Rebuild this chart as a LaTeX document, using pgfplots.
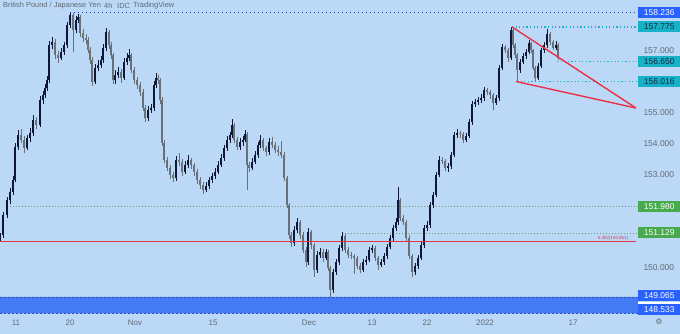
\documentclass[border=0pt]{standalone}
\usepackage{fontspec}
\setmainfont{Liberation Sans}
\newfontfamily\dejavu{DejaVu Sans}
\usepackage{pgfplots}
\usepackage{pgfplotstable}
\usetikzlibrary{backgrounds}
\pgfplotsset{compat=1.18}
\definecolor{bg}{RGB}{187,217,247}
\definecolor{upc}{RGB}{16,24,56}
\definecolor{dnc}{RGB}{104,112,120}
\definecolor{boxblue}{RGB}{41,98,255}
\definecolor{band}{RGB}{68,122,244}
\definecolor{bandline}{RGB}{40,80,200}
\definecolor{topdot}{RGB}{34,60,160}
\definecolor{tealc}{RGB}{24,178,200}
\definecolor{tealtxt}{RGB}{20,40,60}
\definecolor{grn}{RGB}{72,170,76}
\definecolor{grndot}{RGB}{110,160,110}
\definecolor{lred}{RGB}{232,50,70}
\definecolor{txt}{RGB}{96,106,118}

\pgfplotstableread{
x o h l c
0 150.95 151.12 150.88 151.06
3 151.06 151.80 150.98 151.71
7 151.71 152.30 151.62 152.19
10 152.19 152.58 152.05 152.45
13 152.45 152.98 152.36 152.84
15 152.84 154.02 152.76 153.90
18 153.90 154.45 153.80 154.29
21 154.29 154.48 154.02 154.13
24 154.13 154.25 153.72 153.87
27 153.87 154.30 153.80 154.19
30 154.19 154.52 154.08 154.35
33 154.35 154.95 154.25 154.77
36 154.77 154.88 154.48 154.61
40 154.61 155.55 154.55 155.42
43 155.42 155.72 155.30 155.58
45 155.58 155.95 155.48 155.81
47 155.81 156.20 155.72 156.06
49 156.06 157.32 155.98 157.19
52 157.19 157.45 157.05 157.29
55 157.29 157.38 156.75 156.87
58 156.87 157.00 156.62 156.77
61 156.77 157.10 156.70 156.97
64 156.97 157.30 156.88 157.19
67 157.19 157.95 157.10 157.84
70 157.84 158.236 157.75 158.16
73 158.16 158.22 156.97 157.68
76 157.68 158.12 157.58 158.00
78 158.00 158.20 157.90 158.10
80 158.10 158.15 157.45 157.58
83 157.58 157.70 157.30 157.42
86 157.42 157.55 157.22 157.35
88 157.35 157.45 156.92 157.03
90 157.03 157.12 156.58 156.71
92 156.71 156.80 155.88 156.00
95 156.00 156.58 155.92 156.45
98 156.45 156.70 156.35 156.55
101 156.55 156.85 156.45 156.71
103 156.71 157.22 156.62 157.10
106 157.10 157.74 157.00 157.61
109 157.61 157.68 157.08 157.19
111 157.19 157.28 156.75 156.87
113 156.87 156.95 155.92 156.06
115 156.06 156.40 155.95 156.23
118 156.23 156.48 156.12 156.32
121 156.32 156.42 155.98 156.13
124 156.13 156.78 156.05 156.65
127 156.65 156.92 156.55 156.77
129 156.77 157.05 156.68 156.87
131 156.87 156.95 156.28 156.39
134 156.39 156.48 155.95 156.06
137 156.06 156.15 155.78 155.90
140 155.90 156.00 155.55 155.68
143 155.68 155.78 155.05 155.16
145 155.16 155.25 154.70 154.84
148 154.84 155.22 154.75 155.10
151 155.10 155.30 155.00 155.16
154 155.16 156.02 155.08 155.90
156 155.90 156.28 155.82 156.13
158 156.13 156.22 155.95 156.06
160 156.06 156.12 155.30 155.42
162 155.42 155.50 153.92 154.03
164 154.03 154.12 153.38 153.48
167 153.48 153.58 153.12 153.23
170 153.23 153.32 152.88 153.00
173 153.00 153.10 152.78 152.90
176 152.90 153.62 152.82 153.48
179 153.48 153.70 153.30 153.42
182 153.42 153.50 152.98 153.10
185 153.10 153.45 153.02 153.32
188 153.32 153.65 153.22 153.48
191 153.48 153.55 153.20 153.32
194 153.32 153.40 152.98 153.10
197 153.10 153.18 152.72 152.84
200 152.84 152.95 152.55 152.68
203 152.68 152.78 152.40 152.52
206 152.52 152.78 152.45 152.65
209 152.65 152.95 152.55 152.84
212 152.84 153.08 152.75 152.97
215 152.97 153.22 152.88 153.10
218 153.10 153.45 153.02 153.32
221 153.32 153.68 153.25 153.55
224 153.55 153.98 153.45 153.87
227 153.87 154.25 153.78 154.13
230 154.13 154.40 154.02 154.29
232 154.29 154.80 154.20 154.61
234 154.61 154.68 154.02 154.13
237 154.13 154.22 153.80 153.90
240 153.90 154.18 153.82 154.06
243 154.06 154.25 153.95 154.13
245 154.13 154.45 154.05 154.32
247 154.32 154.38 152.52 153.32
249 153.32 153.42 153.10 153.23
252 153.23 153.55 153.15 153.42
255 153.42 153.78 153.35 153.65
258 153.65 154.08 153.55 153.97
260 153.97 154.28 153.88 154.13
263 154.13 154.20 153.78 153.87
266 153.87 153.95 153.62 153.74
269 153.74 154.18 153.65 154.06
272 154.06 154.22 153.88 153.97
275 153.97 154.05 153.70 153.81
278 153.81 153.92 153.62 153.74
281 153.74 154.10 153.55 153.65
284 153.65 153.75 152.80 152.90
287 152.90 152.98 151.92 152.03
289 152.03 152.10 150.95 151.06
291 151.06 151.15 150.68 150.81
294 150.81 151.35 150.72 151.23
297 151.23 151.60 151.12 151.48
300 151.48 151.55 150.95 151.06
303 151.06 151.15 150.48 150.58
306 150.58 150.68 150.02 150.19
308 150.19 151.28 150.10 151.16
311 151.16 151.22 150.62 150.74
314 150.74 150.82 149.71 149.94
317 149.94 150.55 149.85 150.42
320 150.42 150.65 150.32 150.52
323 150.52 150.60 150.20 150.32
326 150.32 150.62 150.25 150.52
328 150.52 150.58 149.90 150.00
330 150.00 150.08 149.065 149.29
333 149.29 149.98 149.20 149.87
336 149.87 150.30 149.78 150.19
339 150.19 150.75 150.10 150.65
342 150.65 151.15 150.55 151.03
345 151.03 151.10 150.48 150.58
348 150.58 150.68 150.32 150.42
351 150.42 150.52 150.30 150.39
354 150.39 150.45 149.82 150.32
357 150.32 150.40 149.98 150.06
360 150.06 150.15 149.85 149.94
363 149.94 150.30 149.88 150.19
366 150.19 150.38 150.10 150.26
369 150.26 150.68 150.18 150.58
372 150.58 150.75 150.48 150.65
375 150.65 150.72 150.22 150.32
378 150.32 150.40 149.95 150.10
381 150.10 150.28 150.02 150.19
384 150.19 150.48 150.10 150.39
387 150.39 150.78 150.30 150.68
390 150.68 151.08 150.60 150.97
393 150.97 151.38 150.88 151.29
396 151.29 151.60 151.20 151.48
398 151.48 152.61 151.40 152.19
400 152.19 152.25 151.52 151.61
403 151.61 151.72 151.38 151.48
406 151.48 151.55 150.88 150.97
409 150.97 151.05 150.30 150.39
412 150.39 150.45 149.71 149.87
415 149.87 150.15 149.78 150.06
418 150.06 150.42 149.98 150.32
421 150.32 150.85 150.25 150.74
424 150.74 151.40 150.65 151.29
427 151.29 151.50 151.18 151.39
430 151.39 152.12 151.30 152.03
433 152.03 152.45 151.95 152.35
436 152.35 153.10 152.28 153.00
439 153.00 153.62 152.92 153.48
442 153.48 153.58 153.35 153.46
445 153.46 153.52 153.12 153.23
448 153.23 153.38 153.10 153.29
451 153.29 153.75 153.20 153.65
454 153.65 154.40 153.58 154.29
457 154.29 154.48 154.20 154.35
460 154.35 154.42 154.20 154.32
463 154.32 154.38 154.02 154.13
466 154.13 154.35 154.05 154.26
469 154.26 154.80 154.18 154.71
472 154.71 155.38 154.62 155.29
475 155.29 155.45 155.20 155.35
478 155.35 155.52 155.25 155.42
481 155.42 155.60 155.32 155.48
484 155.48 155.85 155.40 155.74
487 155.74 155.82 155.58 155.68
490 155.68 155.75 155.45 155.58
493 155.58 155.65 155.10 155.32
496 155.32 155.58 155.25 155.48
499 155.48 156.55 155.40 156.45
502 156.45 157.22 156.38 157.13
505 157.13 157.20 156.92 157.03
508 157.03 157.10 156.65 156.77
511 156.77 157.775 156.70 157.68
513 157.68 157.72 157.10 157.19
515 157.19 157.25 156.78 156.87
517 156.87 156.95 156.016 156.39
520 156.39 156.75 156.30 156.65
523 156.65 156.92 156.58 156.84
526 156.84 157.05 156.75 156.97
529 156.97 157.35 156.90 157.26
531 157.26 157.30 156.95 157.03
533 157.03 157.08 156.38 156.45
535 156.45 156.52 156.02 156.13
538 156.13 156.62 156.05 156.52
541 156.52 157.10 156.45 157.03
544 157.03 157.28 156.95 157.19
547 157.19 157.72 157.10 157.55
550 157.55 157.60 157.20 157.29
553 157.29 157.35 157.02 157.10
556 157.10 157.32 157.02 157.19
558 157.19 157.25 156.70 156.77
}\candles

\begin{document}
\begin{tikzpicture}
\begin{axis}[
  scale only axis, width=638bp, height=316bp,
  xmin=0, xmax=638, ymin=148.451, ymax=158.645,
  clip=false,
  axis line style={draw=none}, tick style={draw=none},
  xtick={16,70,135,213,309,372,427,485,573},
  xticklabels={11,20,Nov,15,Dec,13,22,2022,17},
  xticklabel style={font=\fontsize{8}{9}\selectfont, text=txt, anchor=center, yshift=-7bp},
  ytick={150,153,154,155,157},
  yticklabel pos=right,
  yticklabel style={font=\fontsize{8.5}{10}\selectfont, text=txt, anchor=west, xshift=2bp},
  /pgf/number format/.cd, fixed, fixed zerofill, precision=3, 1000 sep={}, assume math mode=true,
]
\coordinate (bbSW) at (axis cs:0,147.871);
\coordinate (bbNE) at (axis cs:680,158.645);
% blue band
\addplot[draw=none, fill=band, forget plot] coordinates {(0,148.533) (638,148.533) (638,149.065) (0,149.065) (0,148.533)};
\addplot[bandline, line width=0.8bp, dash pattern=on 2bp off 2bp, forget plot] coordinates {(0,149.065) (638,149.065)};
\addplot[bandline, line width=0.8bp, dash pattern=on 2bp off 2bp, forget plot] coordinates {(0,148.533) (638,148.533)};
% horizontal levels
\addplot[topdot, line width=1.4bp, dash pattern=on 1.4bp off 2.6bp, forget plot] coordinates {(70,158.236) (638,158.236)};
\addplot[tealc, line width=1.2bp, dash pattern=on 1.2bp off 2.4bp, forget plot] coordinates {(512,157.775) (638,157.775)};
\addplot[tealc, line width=1.2bp, dash pattern=on 1.2bp off 2.4bp, forget plot] coordinates {(557,156.650) (638,156.650)};
\addplot[tealc, line width=1.2bp, dash pattern=on 1.2bp off 2.4bp, forget plot] coordinates {(517,156.016) (638,156.016)};
\addplot[grndot, line width=0.8bp, dash pattern=on 1bp off 2bp, forget plot] coordinates {(7,151.980) (638,151.980)};
\addplot[grndot, line width=0.8bp, dash pattern=on 1bp off 2bp, forget plot] coordinates {(342,151.129) (638,151.129)};
% candles: wicks
\addplot[quiver={u=0, v=\thisrow{h}-\thisrow{l}}, draw=upc, line width=0.8bp, mark=none, forget plot]
  table[x=x, y expr={\thisrow{c}>=\thisrow{o} ? \thisrow{l} : nan}]{\candles};
\addplot[quiver={u=0, v=\thisrow{h}-\thisrow{l}}, draw=dnc, line width=0.8bp, mark=none, forget plot]
  table[x=x, y expr={\thisrow{c}<\thisrow{o} ? \thisrow{l} : nan}]{\candles};
% candles: bodies
\addplot[quiver={u=0, v=\thisrow{c}-\thisrow{o}}, draw=upc, line width=2.6bp, mark=none, forget plot]
  table[x=x, y expr={\thisrow{c}>=\thisrow{o} ? \thisrow{o} : nan}]{\candles};
\addplot[quiver={u=0, v=\thisrow{o}-\thisrow{c}}, draw=dnc, line width=2.6bp, mark=none, forget plot]
  table[x=x, y expr={\thisrow{c}<\thisrow{o} ? \thisrow{c} : nan}]{\candles};
% 0.382 level drawn over candles
\addplot[color=lred, line width=1.5bp, forget plot] coordinates {(0,150.851) (636,150.851)};
% trend lines
\addplot[color=lred, line width=1.4bp, forget plot] coordinates {(512,157.775) (636,155.16)};
\addplot[color=lred, line width=1.4bp, forget plot] coordinates {(516,156.016) (636,155.16)};
% annotations
\node[anchor=south, text=lred, font=\fontsize{4.5}{5}\selectfont, inner sep=0.6bp] at (axis cs:613,150.851) {0.382(150.851)};
\tikzset{lbl/.style={anchor=west, inner sep=0pt, minimum width=42bp, minimum height=11bp, font=\fontsize{8.5}{10}\selectfont}}
\node[lbl, fill=boxblue, text=white] at (axis cs:638,158.236) {158.236};
\node[lbl, fill=tealc, text=tealtxt] at (axis cs:638,157.775) {157.775};
\node[lbl, fill=tealc, text=tealtxt] at (axis cs:638,156.650) {156.650};
\node[lbl, fill=tealc, text=tealtxt] at (axis cs:638,156.016) {156.016};
\node[lbl, fill=grn, text=white] at (axis cs:638,151.980) {151.980};
\node[lbl, fill=grn, text=white] at (axis cs:638,151.129) {151.129};
\node[lbl, fill=boxblue, text=white] at (axis cs:638,149.097) {149.065};
\node[lbl, fill=boxblue, text=white] at (axis cs:638,148.645) {148.533};
\fill[white] (axis cs:638,148.887) rectangle (axis cs:680,148.845);
\tikzset{ttl/.style={anchor=west, text=txt, font=\fontsize{7.5}{9}\selectfont, inner sep=0pt}}
\node[ttl] at (axis cs:3,158.451) {British Pound / Japanese Yen};
\node[ttl] at (axis cs:104,158.451) {4h};
\node[ttl] at (axis cs:117,158.451) {IDC};
\node[ttl] at (axis cs:133,158.451) {TradingView};
\node[text=txt, font=\dejavu\fontsize{8}{9}\selectfont, inner sep=0pt] at (axis cs:659,148.258) {⚙};
\end{axis}
\begin{scope}[on background layer]
\fill[bg] (bbSW) rectangle (bbNE);
\end{scope}
\pgfresetboundingbox
\useasboundingbox (bbSW) rectangle (bbNE);
\end{tikzpicture}
\end{document}
